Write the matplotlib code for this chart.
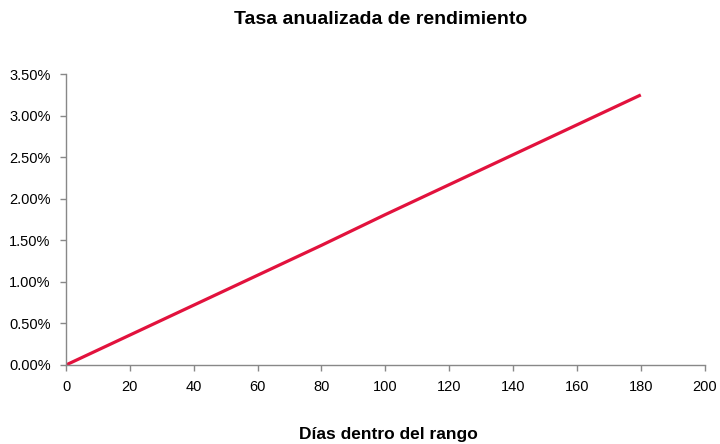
import matplotlib.pyplot as plt
from matplotlib.ticker import FuncFormatter, MultipleLocator

plt.rcParams["font.family"] = ["Liberation Sans", "DejaVu Sans"]

# days in range vs annualised rate (%)
dias = [0, 20, 40, 60, 80, 100, 120, 140, 160, 180]
tasa = [0.0, 0.36, 0.72, 1.08, 1.44, 1.81, 2.17, 2.53, 2.89, 3.25]

fig = plt.figure(figsize=(7.2, 4.44), dpi=100)
ax = fig.add_axes([0.0917, 0.178, 0.887, 0.655])

ax.plot(dias, tasa, color="#E2123D", linewidth=2.3, solid_capstyle="butt")

ax.set_xlim(0, 200)
ax.set_ylim(0, 3.5)
ax.xaxis.set_major_locator(MultipleLocator(20))
ax.yaxis.set_major_locator(MultipleLocator(0.5))
ax.yaxis.set_major_formatter(FuncFormatter(lambda v, _: f"{v:.2f}%"))

for side in ("top", "right"):
    ax.spines[side].set_visible(False)
for side in ("left", "bottom"):
    ax.spines[side].set_color("#888888")
    ax.spines[side].set_linewidth(1.0)
ax.tick_params(colors="#888888", labelcolor="black", labelsize=10.5, length=4, width=1.0)
ax.tick_params(axis="x", pad=7)
ax.tick_params(axis="y", pad=7)

fig.text(0.528, 0.955, "Tasa anualizada de rendimiento", ha="center", va="center",
         fontsize=14, fontweight="bold")
fig.text(0.54, 0.022, "Días dentro del rango", ha="center", va="center",
         fontsize=12.5, fontweight="bold")

fig.savefig("out.png", dpi=100)
